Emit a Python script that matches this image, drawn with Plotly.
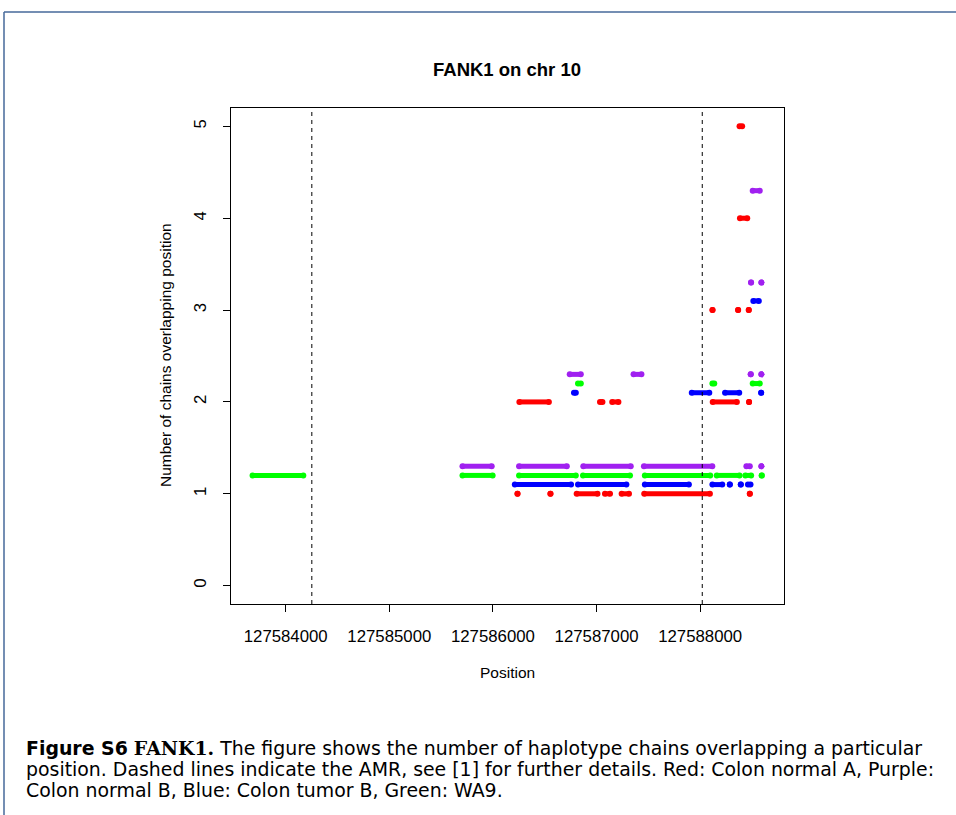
import plotly.graph_objects as go

# Haplotype chains overlapping each position, per sample.
# Each entry: (number of chains, first position, last position); single
# positions have first == last.
red_chains = [  # Colon normal A
    (1, 127586237, 127586237), (1, 127586555, 127586555),
    (1, 127586808, 127587009), (1, 127587081, 127587130),
    (1, 127587242, 127587313), (1, 127587460, 127588094),
    (1, 127588479, 127588479),
    (2, 127586255, 127586540), (2, 127587033, 127587057),
    (2, 127587151, 127587211), (2, 127588121, 127588354),
    (2, 127588472, 127588472),
    (3, 127588119, 127588119), (3, 127588366, 127588366),
    (3, 127588469, 127588469),
    (4, 127588384, 127588454),
    (5, 127588380, 127588405),
]
blue_chains = [  # Colon tumor B
    (1, 127586211, 127586754), (1, 127586821, 127587288),
    (1, 127587466, 127587891), (1, 127588118, 127588213),
    (1, 127588286, 127588286), (1, 127588392, 127588392),
    (1, 127588461, 127588486),
    (2, 127586782, 127586800), (2, 127587919, 127588088),
    (2, 127588240, 127588377), (2, 127588589, 127588589),
    (3, 127588513, 127588566),
]
green_chains = [  # WA9
    (1, 127583680, 127584170), (1, 127585706, 127585997),
    (1, 127586252, 127586800), (1, 127586869, 127587323),
    (1, 127587466, 127588097), (1, 127588160, 127588380),
    (1, 127588436, 127588492), (1, 127588594, 127588594),
    (2, 127586821, 127586848), (2, 127588118, 127588136),
    (2, 127588507, 127588575),
]
purple_chains = [  # Colon normal B
    (1, 127585706, 127585988), (1, 127586252, 127586713),
    (1, 127586872, 127587330), (1, 127587457, 127588117),
    (1, 127588446, 127588479), (1, 127588591, 127588591),
    (2, 127586741, 127586848), (2, 127587357, 127587433),
    (2, 127588488, 127588488), (2, 127588591, 127588591),
    (3, 127588491, 127588491), (3, 127588591, 127588591),
    (4, 127588507, 127588575),
]

# Vertical offsets that keep the samples apart at each count
series = [
    ("Colon normal A", red_chains, 0.0, "#FF0000"),
    ("Colon tumor B", blue_chains, 0.1, "#0000FF"),
    ("WA9", green_chains, 0.2, "#00FF00"),
    ("Colon normal B", purple_chains, 0.3, "#A020F0"),
]

amr_bounds = [127584252, 127588020]
x_ticks = [127584000, 127585000, 127586000, 127587000, 127588000]
y_ticks = [0, 1, 2, 3, 4, 5]

fig = go.Figure()
for name, chains, offset, color in series:
    xs, ys = [], []
    for count, start, end in chains:
        xs += [start, end, None]
        ys += [count + offset, count + offset, None]
    fig.add_trace(go.Scatter(
        x=xs, y=ys, mode="lines+markers", name=name,
        line=dict(color=color, width=5),
        marker=dict(color=color, size=6),
        showlegend=False, hoverinfo="skip",
    ))

# Plot-area geometry in pixels, used to place items outside the axes
W, H = 956, 815
L, R, T, B = 231, 784, 108, 604
pw, ph = R - L, B - T


def px(x):
    return (x - L) / pw


def py(y):
    return (B - y) / ph


shapes = []
for xb in amr_bounds:
    shapes.append(dict(type="line", xref="x", yref="paper", x0=xb, x1=xb,
                       y0=0, y1=1, line=dict(color="black", width=1, dash="4px,4px")))
# page frame
frame = "#46699A"
shapes.append(dict(type="line", xref="paper", yref="paper", x0=px(4), x1=px(960),
                   y0=py(12), y1=py(12), line=dict(color=frame, width=1.5)))
shapes.append(dict(type="line", xref="paper", yref="paper", x0=px(4), x1=px(4),
                   y0=py(12), y1=py(820), line=dict(color=frame, width=1.5)))

font_r = "Liberation Sans, Arial, sans-serif"
annotations = [
    dict(text="<b>FANK1 on chr 10</b>", x=px(507), y=py(70), xref="paper", yref="paper",
         xanchor="center", yanchor="middle", showarrow=False,
         font=dict(family=font_r, size=18.5, color="black")),
    dict(text="Position", x=px(507), y=py(672), xref="paper", yref="paper",
         xanchor="center", yanchor="middle", showarrow=False,
         font=dict(family=font_r, size=15.5, color="black")),
    dict(text="Number of chains overlapping position", x=px(165), y=py(355),
         xref="paper", yref="paper", textangle=-90, xanchor="center", yanchor="middle",
         showarrow=False, font=dict(family=font_r, size=15.5, color="black")),
]

cap_font = dict(family="DejaVu Sans, sans-serif", size=18.9, color="black")
caption = [
    ("<b>Figure S6</b> <span style=\"font-family:'DejaVu Serif'\"><b>FANK1.</b></span> "
     "The figure shows the number of haplotype chains overlapping a particular", 748),
    ("position. Dashed lines indicate the AMR, see [1] for further details. "
     "Red: Colon normal A, Purple:", 769),
    ("Colon normal B, Blue: Colon tumor B, Green: WA9.", 790),
]
for text, yline in caption:
    annotations.append(dict(text=text, x=px(24), y=py(yline), xref="paper", yref="paper",
                            xanchor="left", yanchor="middle", showarrow=False,
                            font=cap_font))

axis_common = dict(showline=True, mirror=True, linecolor="black", linewidth=1,
                   ticks="outside", ticklen=7, tickcolor="black", showgrid=False,
                   zeroline=False, tickfont=dict(family=font_r, size=16.8, color="black"))

fig.update_layout(
    width=W, height=H,
    margin=dict(l=L, r=W - R, t=T, b=H - B),
    paper_bgcolor="white", plot_bgcolor="white",
    xaxis=dict(range=[127583472, 127588809], tickvals=x_ticks,
               ticktext=[str(v) for v in x_ticks], ticklabelstandoff=10, **axis_common),
    yaxis=dict(range=[-0.2, 5.2], tickvals=y_ticks, ticktext=[str(v) for v in y_ticks],
               tickangle=-90, ticklabelstandoff=10, **axis_common),
    shapes=shapes,
    annotations=annotations,
)

fig.write_html("out.html")
